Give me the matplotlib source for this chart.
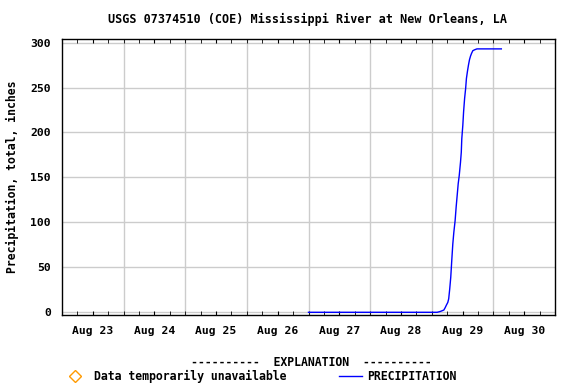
import datetime as dt
import matplotlib
matplotlib.use("Agg")
import matplotlib.pyplot as plt
import matplotlib.dates as mdates
from matplotlib.lines import Line2D

# hours after Aug 29 00:00 and cumulative precipitation
hours = [-48, 2.1, 3.4, 4.7, 5.2, 5.7, 6.25, 6.6, 7.0, 7.4, 7.8, 8.2, 8.6, 9.1,
         9.5, 9.9, 10.3, 10.7, 11.2, 11.5, 11.7, 12.1, 12.4, 12.8, 13.2, 13.5,
         13.9, 14.3, 14.7, 15.1, 15.5, 16.0, 16.7, 17.6, 27.1]
precip = [0, 0, 1, 2.5, 5, 8, 11, 15, 26, 39, 58, 76, 89, 102,
          117, 130, 143, 152, 167, 178, 193, 208, 223, 238, 249, 260,
          268, 275, 281, 285, 288, 291, 292, 293, 293]
yticks = [0, 50, 100, 150, 200, 250, 300]
day_labels = ["Aug 23", "Aug 24", "Aug 25", "Aug 26", "Aug 27", "Aug 28", "Aug 29", "Aug 30"]

base = dt.datetime(2005, 8, 29)
times = [base + dt.timedelta(hours=h) for h in hours]
start = dt.datetime(2005, 8, 23)
end = dt.datetime(2005, 8, 31)

font = "DejaVu Sans Mono"
fig = plt.figure(figsize=(5.76, 3.84), dpi=100)
ax = fig.add_axes([62 / 576, 1 - 315 / 384, 493 / 576, 276 / 384])

for d in range(1, 8):
    ax.axvline(start + dt.timedelta(days=d), color="#cccccc", lw=1, zorder=0)
for v in yticks:
    ax.axhline(v, color="#cccccc", lw=1, zorder=0)

ax.plot(times, precip, color="#0000ff", lw=1)

ax.set_xlim(start, end)
ax.set_ylim(-3, 304)

ax.xaxis.set_minor_locator(mdates.HourLocator(byhour=[0, 6, 18]))
ax.set_xticks([start + dt.timedelta(days=i, hours=12) for i in range(8)])
ax.set_xticklabels(day_labels)
ax.tick_params(axis="x", which="both", direction="in", length=3, top=True, pad=8)
ax.set_yticks(yticks)
ax.tick_params(axis="y", length=0, pad=8)
for lab in ax.get_xticklabels() + ax.get_yticklabels():
    lab.set_fontfamily(font)
    lab.set_fontweight("bold")
    lab.set_fontsize(8.2)
for s in ax.spines.values():
    s.set_linewidth(1)

ax.set_ylabel("Precipitation, total, inches", fontfamily=font, fontweight="bold",
              fontsize=8.3, labelpad=8)
fig.text(307.5 / 576, 1 - 19 / 384, "USGS 07374510 (COE) Mississippi River at New Orleans, LA",
         ha="center", va="center", fontfamily=font, fontweight="bold", fontsize=8.45)

# explanation
fig.text(311 / 576, 1 - 362 / 384, "----------  EXPLANATION  ----------",
         ha="center", va="center", fontfamily=font, fontweight="bold", fontsize=8.3)
fig.add_artist(Line2D([75 / 576], [1 - 376 / 384], marker="D", markersize=6,
                      markerfacecolor="none", markeredgecolor="#ff9a00",
                      markeredgewidth=1, transform=fig.transFigure))
fig.text(94 / 576, 1 - 376 / 384, "Data temporarily unavailable",
         ha="left", va="center", fontfamily=font, fontweight="bold", fontsize=8.3)
fig.add_artist(Line2D([339 / 576, 362 / 576], [1 - 376 / 384] * 2, color="#0000ff",
                      lw=1, transform=fig.transFigure))
fig.text(367.5 / 576, 1 - 376 / 384, "PRECIPITATION",
         ha="left", va="center", fontfamily=font, fontweight="bold", fontsize=8.3)

fig.savefig("out.png", dpi=100)
